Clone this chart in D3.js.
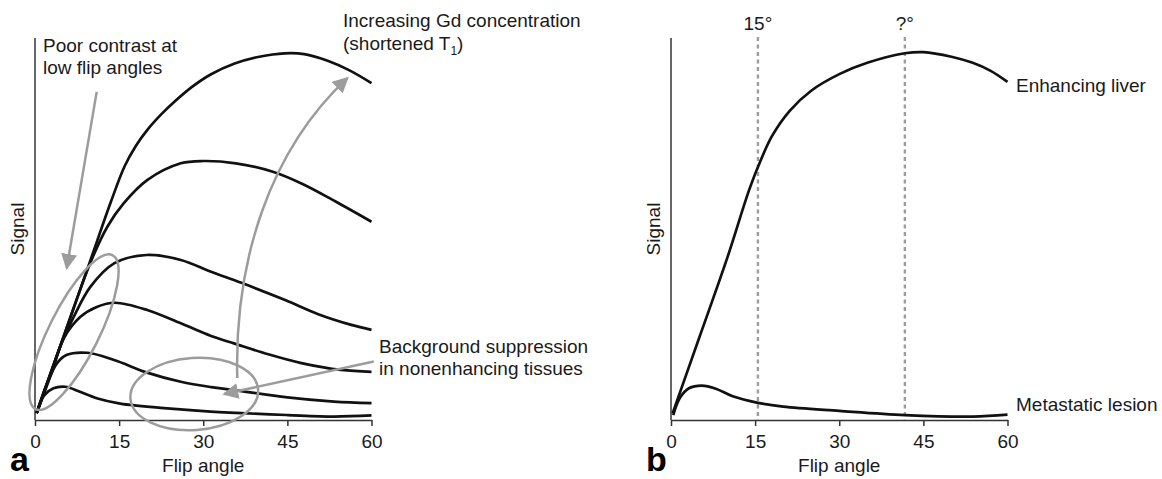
<!DOCTYPE html>
<html>
<head>
<meta charset="utf-8">
<script src="https://cdn.jsdelivr.net/npm/d3@7"></script>
<style>
  html, body { margin: 0; padding: 0; background: #fff; }
  svg text { font-family: Helvetica, Arial, "Liberation Sans", sans-serif; fill: #1a1a1a; }
</style>
</head>
<body>
<svg id="chart" width="1162" height="479"></svg>
<script>
// flip angle ticks shared by both panels
const xTicks = [0, 15, 30, 45, 60];

// panel a: signal vs flip angle, one curve per Gd concentration (highest first)
const gdCurves = [
  [[0.3, 1.8], [5, 21.4], [10, 42.3], [13.5, 57], [16, 66.5], [18, 71.8], [20, 75.9], [22.5, 80], [25, 83.5], [28, 87.2], [31.4, 90.5], [35.6, 93.3], [40, 95.1], [44.5, 96], [48, 95.8], [52.3, 94], [56, 91.6], [60, 88.2]],
  [[0.3, 1.8], [5, 21.4], [10, 41.6], [12.9, 50.6], [15.8, 56.7], [20, 62.8], [26, 67.2], [30, 67.8], [35.8, 67.2], [42.4, 65], [47.7, 61.8], [53.6, 57.2], [60, 51.9]],
  [[0.3, 1.8], [5, 21], [6.9, 27], [9.9, 34.9], [14.1, 41], [19.9, 43.2], [26, 41.9], [31.4, 38.8], [36.8, 35.9], [44.6, 31.4], [50.5, 27.7], [56.4, 24.9], [60, 23.6]],
  [[0.3, 1.8], [3, 12.5], [5.1, 21.3], [8.1, 27], [11, 29.6], [14.3, 30.7], [20, 28.8], [26, 25.3], [31.4, 22], [35.6, 20], [41.6, 17.2], [47.5, 14.9], [54.6, 13.1], [60, 12.6]],
  [[0.3, 1.8], [2, 9], [3.9, 14.8], [5.6, 17], [9.3, 17.6], [14.1, 15.7], [20, 12.4], [26, 10], [31.4, 8.6], [35.6, 7.8], [45, 5.9], [53.3, 4.8], [60, 4.4]],
  [[0.3, 1.8], [1.6, 6.4], [3.3, 8.3], [5.4, 8.7], [8, 7.4], [11, 5.7], [15.2, 4.3], [23, 3.1], [31.3, 2.2], [45, 1.3], [53.3, 0.9], [60, 1.2]]
];

// panel b: enhancing liver vs metastatic lesion
const liver = [[0.3, 1.8], [5, 21.4], [10, 42.3], [14, 60.5], [16, 68], [18, 74.3], [21.2, 81], [25, 86.2], [30.1, 90.6], [35, 93.5], [41.7, 96], [45, 96.3], [50, 95.1], [53.8, 93.5], [57, 91.4], [60, 88.5]];
const lesion = [[0.4, 1.3], [1.6, 5.8], [3.2, 8.3], [5.5, 9], [8, 8.2], [11, 6.2], [15.5, 4.5], [20, 3.5], [30, 2.4], [41.7, 1.3], [53.8, 0.9], [60, 1.4]];

// reference flip angles marked in panel b
const markers = [
  { angle: 15.5, label: "15°" },
  { angle: 41.7, label: "?°" }
];

const INK = "#111";
const GREY = "#9c9c9c";

const svg = d3.select("#chart");

const defs = svg.append("defs");
defs.append("marker")
  .attr("id", "head")
  .attr("markerUnits", "userSpaceOnUse")
  .attr("viewBox", "0 0 16 16")
  .attr("markerWidth", 16)
  .attr("markerHeight", 16)
  .attr("refX", 14)
  .attr("refY", 8)
  .attr("orient", "auto")
  .append("path")
  .attr("d", "M0,0 L16,8 L0,16 Z")
  .attr("fill", GREY);

function drawPanel(left, letter) {
  const x = d3.scaleLinear().domain([0, 60]).range([left, left + 336.5]);
  const y = d3.scaleLinear().domain([0, 100]).range([420, 38]);
  const g = svg.append("g");

  // y axis is a bare line, no ticks
  g.append("line")
    .attr("x1", x(0)).attr("x2", x(0))
    .attr("y1", y(100)).attr("y2", y(0))
    .attr("stroke", "#333")
    .attr("stroke-width", 1.5);

  const xAxis = g.append("g")
    .attr("transform", `translate(0,${y(0)})`)
    .call(d3.axisBottom(x).tickValues(xTicks).tickSize(6).tickSizeOuter(0).tickPadding(9));
  xAxis.select(".domain").attr("stroke", "#333").attr("stroke-width", 1.5);
  xAxis.selectAll(".tick line").attr("stroke", "#333").attr("stroke-width", 1.5);
  xAxis.selectAll(".tick text")
    .attr("font-size", "19px")
    .attr("font-family", "Helvetica, Arial, 'Liberation Sans', sans-serif")
    .attr("fill", "#1a1a1a");

  g.append("text")
    .attr("x", x(30))
    .attr("y", 472)
    .attr("text-anchor", "middle")
    .attr("font-size", "19px")
    .text("Flip angle");

  g.append("text")
    .attr("transform", `translate(${x(0) - 11},${y(50)}) rotate(-90)`)
    .attr("text-anchor", "middle")
    .attr("font-size", "19px")
    .text("Signal");

  g.append("text")
    .attr("x", left - 25)
    .attr("y", 471)
    .attr("font-size", "34px")
    .attr("font-weight", "bold")
    .style("fill", "#000")
    .text(letter);

  return { g, x, y };
}

const line = (x, y) => d3.line()
  .x(d => x(d[0]))
  .y(d => y(d[1]))
  .curve(d3.curveCatmullRom.alpha(0.5));

// ---- panel a ----
const a = drawPanel(35, "a");

a.g.selectAll(".gd")
  .data(gdCurves)
  .join("path")
  .attr("class", "gd")
  .attr("d", line(a.x, a.y))
  .attr("fill", "none")
  .attr("stroke", INK)
  .attr("stroke-width", 2.7);

// ellipse around the shared low-angle slope
a.g.append("ellipse")
  .attr("transform", `translate(${a.x(6.96)},${a.y(23)}) rotate(-63.4)`)
  .attr("rx", 86)
  .attr("ry", 25)
  .attr("fill", "none")
  .attr("stroke", GREY)
  .attr("stroke-width", 2.5);

// ellipse around suppressed background curves
a.g.append("ellipse")
  .attr("transform", `translate(${a.x(28.4)},${a.y(6.8)}) rotate(-4)`)
  .attr("rx", 64)
  .attr("ry", 36)
  .attr("fill", "none")
  .attr("stroke", GREY)
  .attr("stroke-width", 2.5);

const arrow = (d) => a.g.append("path")
  .attr("d", d)
  .attr("fill", "none")
  .attr("stroke", GREY)
  .attr("stroke-width", 2.5)
  .attr("marker-end", "url(#head)");

arrow(`M${a.x(11)},${a.y(85.9)} L${a.x(5.66)},${a.y(39.8)}`);
arrow(`M${a.x(60.4)},${a.y(15.3)} L${a.x(33.75)},${a.y(6.8)}`);
arrow(`M${a.x(36.07)},${a.y(11)} C${a.x(35.5)},${a.y(41.9)} ${a.x(41.96)},${a.y(70.7)} ${a.x(55.7)},${a.y(89.5)}`);

const note = (lines, x0, y0, dy) => {
  lines.forEach((t, i) => {
    a.g.append("text")
      .attr("x", x0)
      .attr("y", y0 + i * dy)
      .attr("font-size", "19px")
      .text(t);
  });
};

note(["Poor contrast at", "low flip angles"], 43, 51.5, 22);
note(["Increasing Gd concentration"], 343, 26.5, 0);
note(["Background suppression", "in nonenhancing tissues"], 379, 352.5, 22.5);

const t1 = a.g.append("text")
  .attr("x", 343)
  .attr("y", 49.5)
  .attr("font-size", "19px");
t1.append("tspan").text("(shortened T");
t1.append("tspan").attr("font-size", "12px").attr("dy", 5).text("1");
t1.append("tspan").attr("dy", -5).text(")");

// ---- panel b ----
const b = drawPanel(671, "b");

b.g.selectAll(".marker")
  .data(markers)
  .join("line")
  .attr("class", "marker")
  .attr("x1", d => b.x(d.angle))
  .attr("x2", d => b.x(d.angle))
  .attr("y1", 37)
  .attr("y2", b.y(0))
  .attr("stroke", GREY)
  .attr("stroke-width", 2.4)
  .attr("stroke-dasharray", "4,3.5");

b.g.selectAll(".marker-label")
  .data(markers)
  .join("text")
  .attr("class", "marker-label")
  .attr("x", d => b.x(d.angle))
  .attr("y", 30)
  .attr("text-anchor", "middle")
  .attr("font-size", "19px")
  .text(d => d.label);

b.g.selectAll(".tissue")
  .data([liver, lesion])
  .join("path")
  .attr("class", "tissue")
  .attr("d", line(b.x, b.y))
  .attr("fill", "none")
  .attr("stroke", INK)
  .attr("stroke-width", 2.7);

b.g.append("text")
  .attr("x", 1016)
  .attr("y", 91.5)
  .attr("font-size", "19px")
  .text("Enhancing liver");

b.g.append("text")
  .attr("x", 1016)
  .attr("y", 410.5)
  .attr("font-size", "19px")
  .text("Metastatic lesion");
</script>
</body>
</html>
